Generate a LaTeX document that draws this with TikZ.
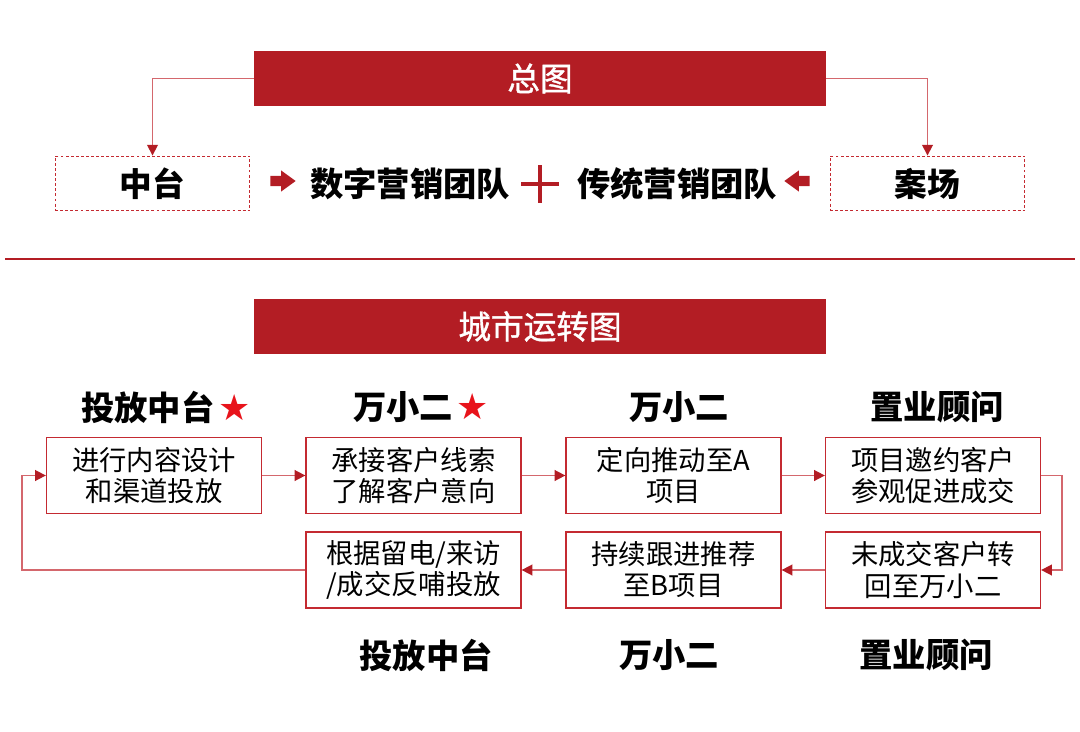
\documentclass[tikz,border=0pt]{standalone}
\usepackage{fontspec}
\setmainfont{Noto Sans CJK SC}
\newfontfamily\midfont[FakeBold=1.2]{Noto Sans CJK SC}
\newfontfamily\starfont{DejaVu Sans}
\usepackage{xcolor}
\usepackage{tikz}
\usetikzlibrary{positioning,arrows.meta,shapes.arrows}
\definecolor{bannerred}{HTML}{B31D24}
\definecolor{boxred}{HTML}{C42A31}
\definecolor{linkred}{HTML}{D4676D}
\definecolor{starred}{HTML}{E8131B}
\newcommand{\rstar}{{\starfont\color{starred}\fontsize{27}{28}\selectfont ★}}
\tikzset{
  banner/.style={rectangle, fill=bannerred, minimum width=429pt, minimum height=41pt, inner sep=0pt, text=white, font=\midfont\fontsize{24.5}{28}\selectfont},
  dbox/.style={rectangle, draw=boxred, dash pattern=on 2.2pt off 1.6pt, line width=0.9pt, minimum width=146pt, minimum height=41pt, font=\fontsize{24.5}{28}\selectfont\bfseries},
  team/.style={inner sep=0pt, font=\fontsize{25}{28}\selectfont\bfseries},
  fat/.style={single arrow, fill=bannerred, draw=none, inner sep=0pt, inner ysep=3.6pt, single arrow head extend=4.1pt, single arrow tip angle=72, minimum height=19pt},
  pbox/.style={rectangle, draw=boxred, line width=1.2pt, minimum width=161pt, minimum height=57pt, inner sep=0pt, align=center, font=\fontsize{20.5}{23.3}\selectfont},
  role/.style={inner sep=0pt, font=\fontsize{25}{28}\selectfont\bfseries},
  link/.style={draw=linkred, line width=1.2pt, -{Triangle[length=8pt,width=8pt,color=bannerred]}},
  plusbar/.style={draw=bannerred, line width=3pt},
  sepline/.style={draw=bannerred, line width=1pt}
}
\begin{document}
\begin{tikzpicture}[x=0.75pt, y=-0.75pt]
  \useasboundingbox (0,0) rectangle (1080,731);
  \node[banner] (t1) at (540,78.5) {总图};
  \node[dbox] (z1) at (152.5,183.5) {中台};
  \node[dbox] (z2) at (927.5,183.5) {案场};
  \node[fat] (f1) at (279.5,181) {};
  \node[fat, shape border rotate=180] (f2) at (800.5,181) {};
  \node[team] (d1) at (410,184) {数字营销团队};
  \node[team] (d2) at (677,184) {传统营销团队};
  \coordinate (pl) at (540,184);
  \draw[plusbar] (pl) ++(-19,0) -- ++(38,0) (pl) ++(0,-19) -- ++(0,38);
  \draw[link] (t1.west) -| (z1.north);
  \draw[link] (t1.east) -| (z2.north);
  \draw[sepline] (5,259) -- (1075,259);

  \node[banner] (t2) at (540,326.5) {城市运转图};
  \node[role] (r1) at (166,407) {投放中台\hspace{0.12em}\rstar};
  \node[role] (r2) at (421,407) {万小二\hspace{0.1em}\rstar};
  \node[role] (r3) at (679,407) {万小二};
  \node[role] (r4) at (937,407) {置业顾问};
  \node[pbox] (b1) at (154,475.5) {进行内容设计\\和渠道投放};
  \node[pbox] (b2) at (413.5,475.5) {承接客户线索\\了解客户意向};
  \node[pbox] (b3) at (673.5,475.5) {定向推动至A\\项目};
  \node[pbox] (b4) at (933,475.5) {项目邀约客户\\参观促进成交};
  \node[pbox] (c2) at (413.5,570) {根据留电/来访\\/成交反哺投放};
  \node[pbox] (c3) at (673.5,570) {持续跟进推荐\\至B项目};
  \node[pbox] (c4) at (933,570) {未成交客户转\\回至万小二};
  \node[role] (s2) at (426,655) {投放中台};
  \node[role] (s3) at (669,655) {万小二};
  \node[role] (s4) at (926,655) {置业顾问};
  \draw[link] (b1) -- (b2);
  \draw[link] (b2) -- (b3);
  \draw[link] (b3) -- (b4);
  \draw[link] (b4.east) -- ++(21,0) |- (c4.east);
  \draw[link] (c4) -- (c3);
  \draw[link] (c3) -- (c2);
  \draw[link] (c2.west) -- ++(-283.5,0) |- (b1.west);
\end{tikzpicture}
\end{document}
